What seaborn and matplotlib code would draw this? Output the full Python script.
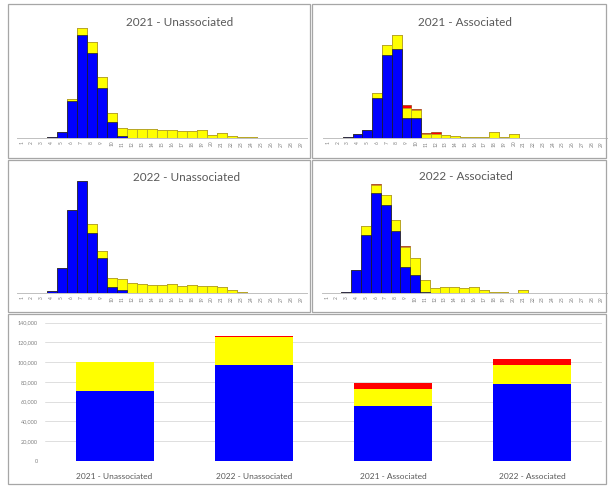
import numpy as np
import pandas as pd
import matplotlib
matplotlib.use("Agg")
import matplotlib.pyplot as plt
import seaborn as sns
from matplotlib.patches import Rectangle

# histogram bins (29 per panel)
bins = [str(i) for i in range(1, 30)]

def pad29(d):
    out = [0] * 29
    for k, v in d.items():
        out[k] = v
    return out

# 2021 - Unassociated
u21_blue = pad29({3: 3, 4: 18, 5: 110, 6: 310, 7: 255, 8: 150, 9: 47, 10: 7})
u21_yellow = pad29({5: 8, 6: 20, 7: 33, 8: 33, 9: 28, 10: 23, 11: 27, 12: 26, 13: 26, 14: 25,
                    15: 24, 16: 21, 17: 22, 18: 25, 19: 10, 20: 14, 21: 6, 22: 3, 23: 2, 24: 1})
u21_red = pad29({10: 1})

# 2021 - Associated
a21_blue = pad29({2: 3, 3: 12, 4: 25, 5: 120, 6: 250, 7: 268, 8: 60, 9: 60})
a21_yellow = pad29({5: 15, 6: 30, 7: 42, 8: 30, 9: 25, 10: 13, 11: 13, 12: 8, 13: 5, 14: 3,
                    15: 2, 16: 2, 17: 17, 18: 3, 19: 12})
a21_red = pad29({8: 10, 9: 3, 10: 2, 11: 5, 12: 2})

# 2022 - Unassociated
u22_blue = pad29({3: 8, 4: 75, 5: 250, 6: 335, 7: 180, 8: 105, 9: 18, 10: 10})
u22_yellow = pad29({7: 28, 8: 23, 9: 27, 10: 32, 11: 30, 12: 28, 13: 25, 14: 25, 15: 28, 16: 22,
                    17: 25, 18: 22, 19: 22, 20: 18, 21: 10, 22: 4, 23: 1})
u22_red = pad29({})

# 2022 - Associated
a22_blue = pad29({2: 5, 3: 70, 4: 175, 5: 300, 6: 265, 7: 185, 8: 80, 9: 55, 10: 3})
a22_yellow = pad29({4: 27, 5: 25, 6: 30, 7: 35, 8: 58, 9: 50, 10: 37, 11: 15, 12: 18, 13: 18,
                    14: 15, 15: 18, 16: 10, 17: 5, 18: 3, 19: 2, 20: 10, 21: 2})
a22_red = pad29({5: 3, 8: 4, 13: 2, 15: 2})

# totals chart
groups = ["2021 - Unassociated", "2022 - Unassociated", "2021 - Associated", "2022 - Associated"]
tot_blue = [71000, 97000, 56000, 78000]
tot_yellow = [28800, 28800, 16800, 19000]
tot_red = [800, 1200, 5800, 5800]

BLUE, YELLOW, RED = "#0000ff", "#ffff00", "#ff0000"
W, H = 608, 486

sns.set_theme(style="white")
plt.rcParams["font.family"] = ["Lato", "DejaVu Sans"]

fig = plt.figure(figsize=(W / 100, H / 100), dpi=100)

def rect(x0, y0, x1, y1):
    return [x0 / W, 1 - y1 / H, (x1 - x0) / W, (y1 - y0) / H]

# panel frames
for x0, y0, x1, y1 in [(8, 4, 310, 158), (312, 4, 606, 158), (8, 160, 310, 312),
                       (312, 160, 606, 312), (8, 314, 606, 484)]:
    fig.add_artist(Rectangle((x0 / W, 1 - y1 / H), (x1 - x0) / W, (y1 - y0) / H,
                             transform=fig.transFigure, fill=False,
                             edgecolor="#a6a6a6", lw=0.9))

def stacked_hist(r, blue, yellow, red, title, tx, ty):
    ax = fig.add_axes(rect(*r))
    df = pd.DataFrame({"bin": bins, "blue": blue, "yellow": yellow, "red": red})
    df["by"] = df["blue"] + df["yellow"]
    df["byr"] = df["by"] + df["red"]
    for col, c, ec in [("byr", RED, "#8a3a00"), ("by", YELLOW, "#a8a830"), ("blue", BLUE, "#1a1a1a")]:
        sns.barplot(data=df, x="bin", y=col, color=c, width=1.0, saturation=1,
                    edgecolor=ec, linewidth=0.45, errorbar=None, ax=ax)
    ax.set_ylim(0, 354)
    ax.set_xlim(-0.5, 28.5)
    ax.set_yticks([])
    ax.set_xlabel("")
    ax.set_ylabel("")
    ax.set_xticks(range(29))
    ax.set_xticklabels(bins, rotation=90, fontsize=3.5, color="#808080")
    ax.tick_params(axis="x", length=0, pad=2)
    for s in ["top", "right", "left"]:
        ax.spines[s].set_visible(False)
    ax.spines["bottom"].set_color("#c0c0c0")
    ax.spines["bottom"].set_linewidth(0.7)
    ax.patch.set_alpha(0)
    fig.text(tx / W, 1 - ty / H, title, ha="center", va="center",
             fontsize=8.5, color="#595959")

stacked_hist((16.7, 20, 306.7, 138), u21_blue, u21_yellow, u21_red, "2021 - Unassociated", 180, 23)
stacked_hist((323.4, 20, 606.6, 138), a21_blue, a21_yellow, a21_red, "2021 - Associated", 465, 22)
stacked_hist((16.7, 175, 306.7, 293.3), u22_blue, u22_yellow, u22_red, "2022 - Unassociated", 187, 177)
stacked_hist((321.8, 175, 606.6, 293.3), a22_blue, a22_yellow, a22_red, "2022 - Associated", 466, 176)

# totals
ax = fig.add_axes(rect(45, 322.7, 602, 460.7))
tot = pd.DataFrame({"group": groups, "blue": tot_blue, "yellow": tot_yellow, "red": tot_red})
tot["by"] = tot["blue"] + tot["yellow"]
tot["byr"] = tot["by"] + tot["red"]
for col, c in [("byr", RED), ("by", YELLOW), ("blue", BLUE)]:
    sns.barplot(data=tot, x="group", y=col, color=c, width=0.56, saturation=1,
                linewidth=0, errorbar=None, ax=ax)
ax.set_ylim(0, 140000)
ax.set_xlim(-0.5, 3.5)
ax.set_yticks(range(0, 140001, 20000))
ax.set_yticklabels([f"{v:,}" for v in range(0, 140001, 20000)], fontsize=4, color="#808080")
ax.tick_params(axis="y", length=0, pad=5)
ax.tick_params(axis="x", length=0, pad=9, labelsize=6, labelcolor="#595959")
ax.set_xlabel("")
ax.set_ylabel("")
ax.yaxis.grid(True, color="#d9d9d9", lw=0.6)
ax.set_axisbelow(True)
for s in ax.spines.values():
    s.set_visible(False)
ax.patch.set_alpha(0)

fig.savefig("out.png", dpi=100)
